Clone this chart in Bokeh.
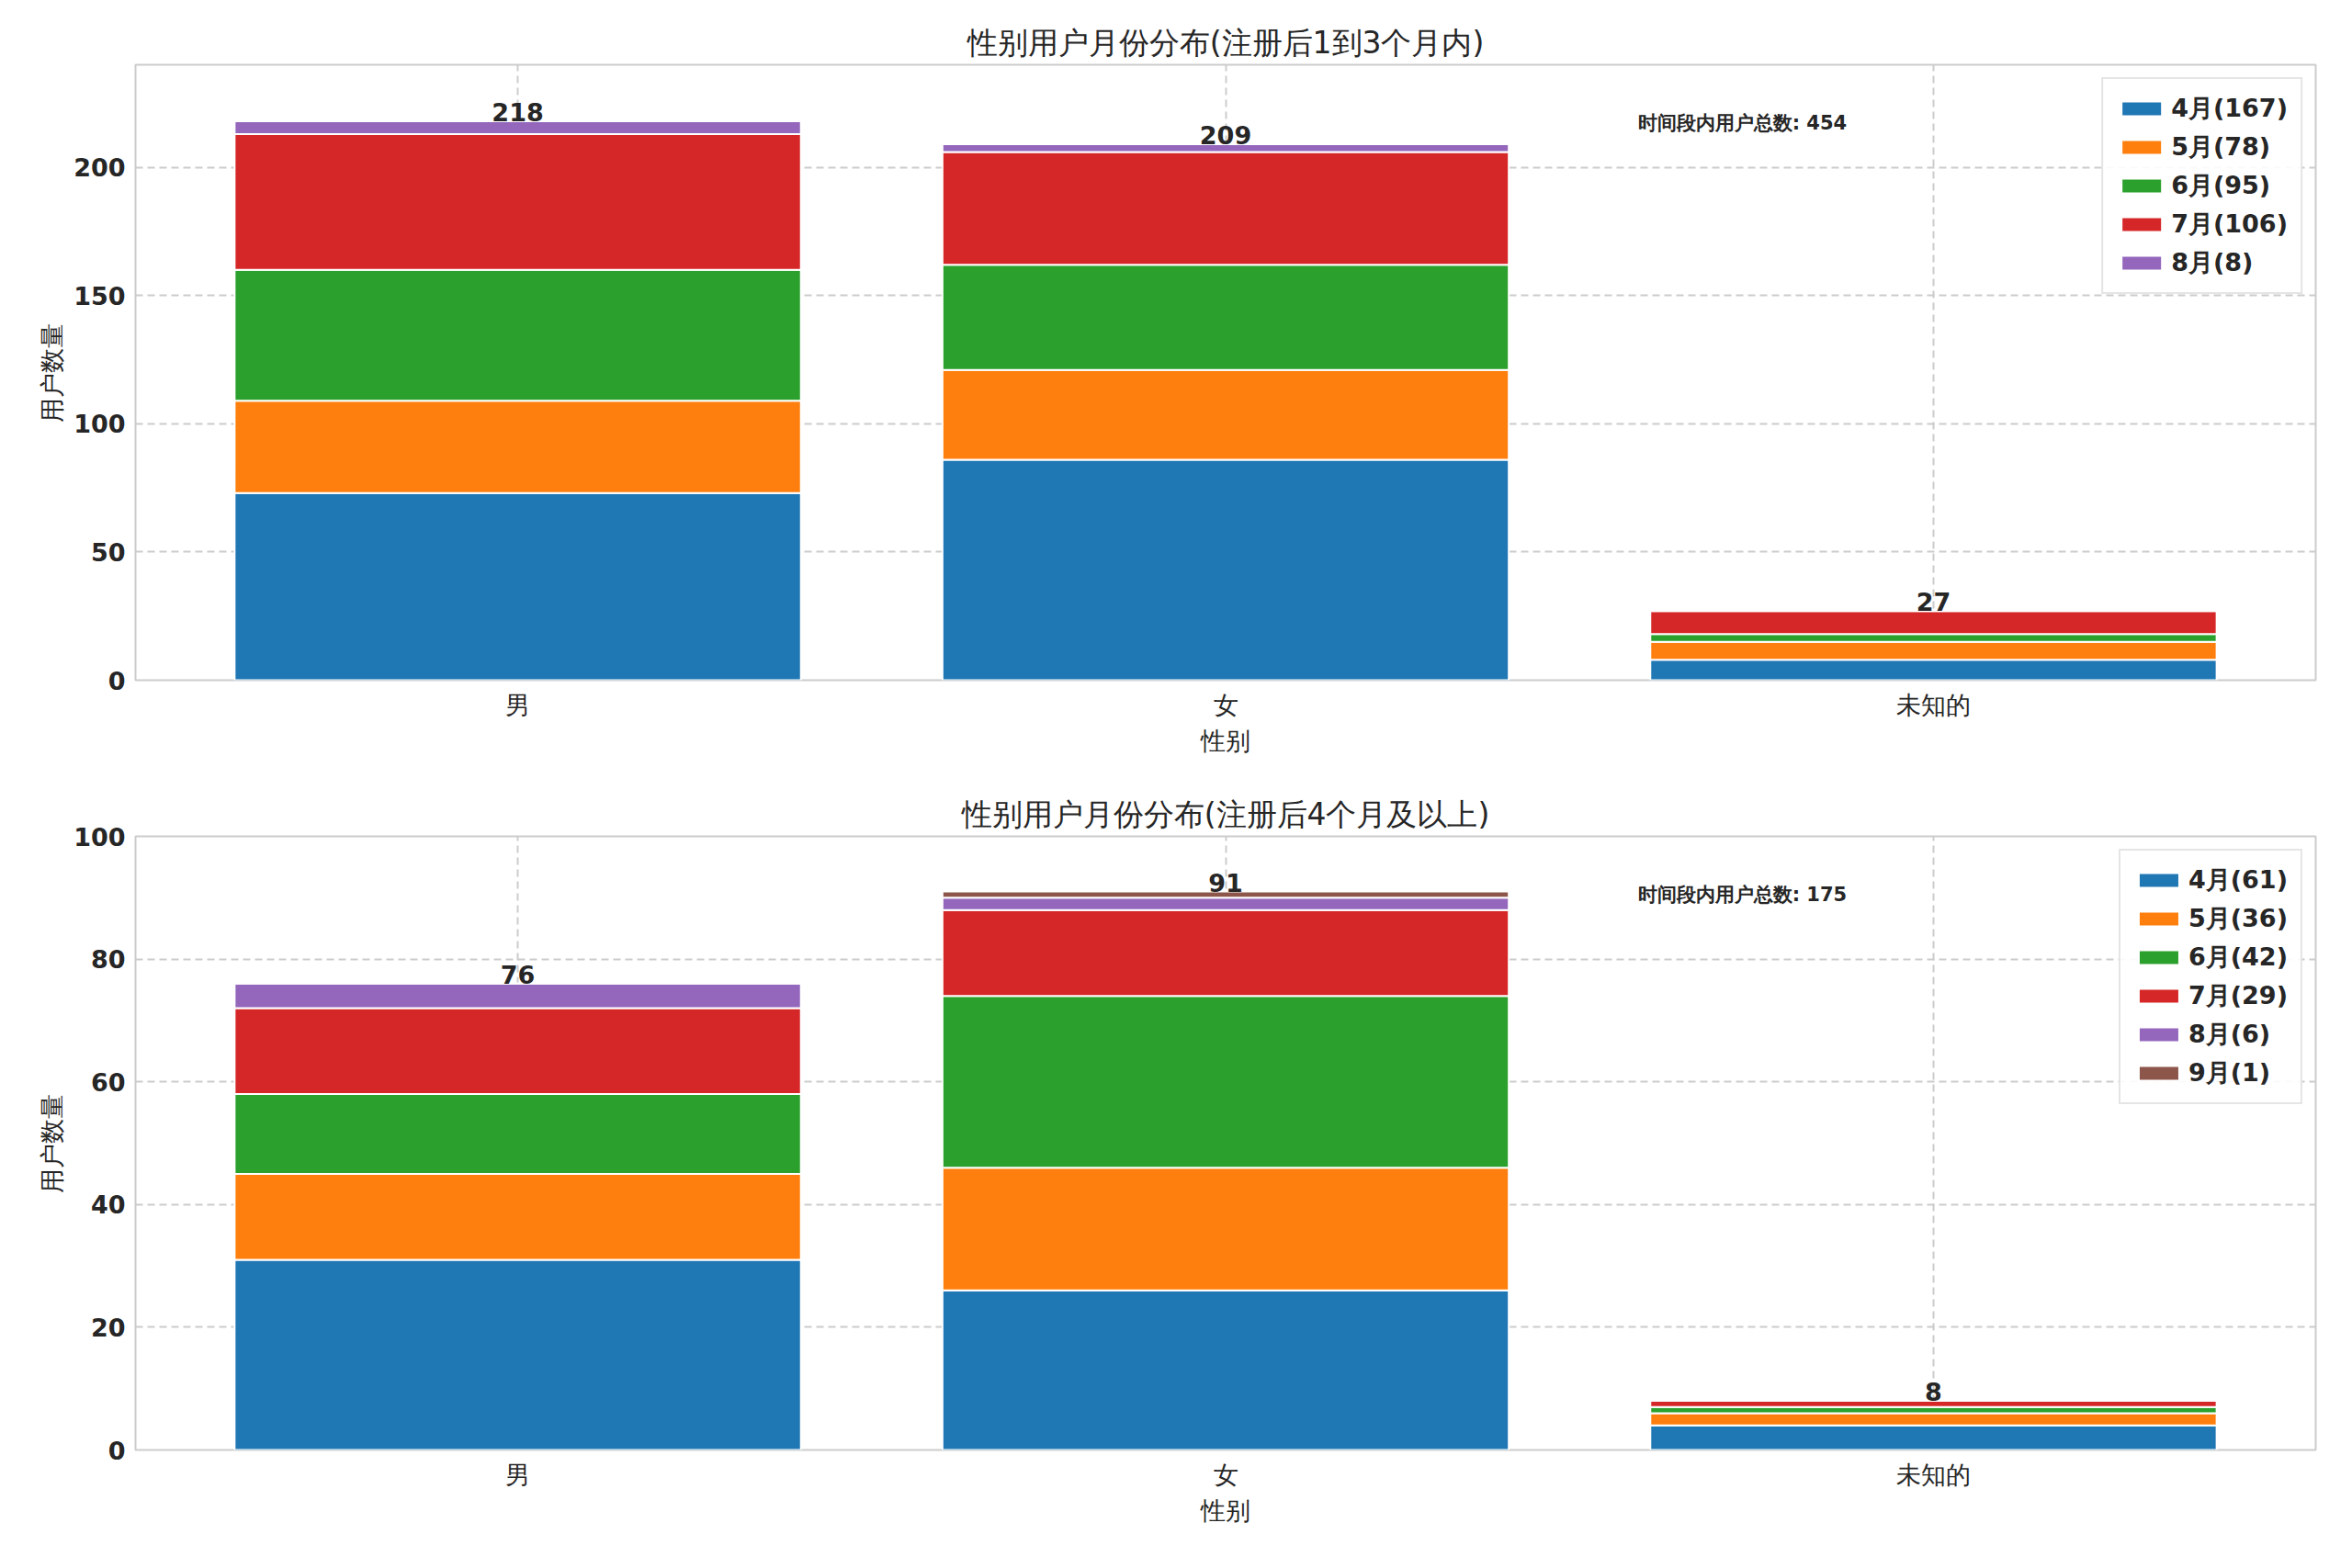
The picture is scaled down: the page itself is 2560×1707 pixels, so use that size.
from bokeh.plotting import figure
from bokeh.layouts import column
from bokeh.models import Legend, LegendItem, Range1d, FixedTicker
from bokeh.core.properties import value
from bokeh.embed import file_html
from bokeh.resources import INLINE

categories = ["男", "女", "未知的"]
months1 = ["4月", "5月", "6月", "7月", "8月"]
series1 = [[73, 86, 8], [36, 35, 7], [51, 41, 3], [53, 44, 9], [5, 3, 0]]
months2 = ["4月", "5月", "6月", "7月", "8月", "9月"]
series2 = [[31, 26, 4], [14, 20, 2], [13, 28, 1], [14, 14, 1], [4, 2, 0], [0, 1, 0]]
colors = ["#1f77b4", "#ff7f0e", "#2ca02c", "#d62728", "#9467bd", "#8c564b"]
titles = ["性别用户月份分布(注册后1到3个月内)", "性别用户月份分布(注册后4个月及以上)"]
ymax = [240, 100]
yticks = [[0, 50, 100, 150, 200], [0, 20, 40, 60, 80, 100]]
note_label = "时间段内用户总数"
FONT = "DejaVu Sans"

def make(idx, months, series, h, bt, bb):
    p = figure(width=2544, height=h, output_backend="svg", toolbar_location=None,
               x_range=Range1d(-0.54, 2.54), y_range=Range1d(0, ymax[idx]),
               min_border_left=147, min_border_right=24, min_border_top=bt, min_border_bottom=bb)
    p.title.text = titles[idx]
    p.title.align = "center"
    p.title.text_font = FONT
    p.title.text_font_size = "33px"
    p.title.text_font_style = "normal"
    p.title.text_color = "#262626"
    xs = list(range(len(categories)))
    bottoms = [0] * len(categories)
    items = []
    for k, m in enumerate(months):
        tops = [b + v for b, v in zip(bottoms, series[k])]
        r = p.vbar(x=xs, bottom=bottoms, top=tops, width=0.8, fill_color=colors[k],
                   line_color="white", line_width=2)
        items.append(LegendItem(label=f"{m}({sum(series[k])})", renderers=[r]))
        bottoms = tops
    p.text(x=xs, y=bottoms, text=[str(t) for t in bottoms], text_align="center",
           text_baseline="bottom", text_font=value(FONT), text_font_size="27px",
           text_font_style="bold", text_color="#262626")
    total = sum(bottoms)
    p.text(x=[1.73], y=[ymax[idx] * 0.905], text=[f"{note_label}: {total}"], text_align="center",
           text_baseline="middle", text_font=value(FONT), text_font_size="21px",
           text_font_style="bold", text_color="#262626")
    leg = Legend(items=items, location="top_right", label_text_font=FONT,
                 label_text_font_size="27px", label_text_font_style="bold",
                 label_text_color="#262626", glyph_width=55, glyph_height=20,
                 spacing=6, padding=14, border_line_color="#cccccc", border_line_width=2,
                 background_fill_alpha=0.9, margin=14)
    p.add_layout(leg)
    p.xaxis.ticker = FixedTicker(ticks=xs)
    p.xaxis.major_label_overrides = {i: c for i, c in enumerate(categories)}
    p.yaxis.ticker = FixedTicker(ticks=yticks[idx])
    p.xaxis.axis_label = "性别"
    p.yaxis.axis_label = "用户数量"
    for ax in [p.xaxis[0], p.yaxis[0]]:
        ax.axis_label_text_font = FONT
        ax.axis_label_text_font_size = "27px"
        ax.axis_label_text_font_style = "normal"
        ax.axis_label_text_color = "#262626"
        ax.major_label_text_font = FONT
        ax.major_label_text_font_size = "27px"
        ax.major_label_text_color = "#262626"
        ax.axis_line_color = None
        ax.major_tick_line_color = None
        ax.minor_tick_line_color = None
    p.yaxis.major_label_text_font_style = "bold"
    p.xgrid.grid_line_dash = "8 5"
    p.ygrid.grid_line_dash = "8 5"
    p.xgrid.grid_line_color = "#cccccc"
    p.ygrid.grid_line_color = "#cccccc"
    p.xgrid.grid_line_width = 2
    p.ygrid.grid_line_width = 2
    p.outline_line_color = "#cccccc"
    p.outline_line_width = 2
    return p

p1 = make(0, months1, series1, 832, 70, 92)
p2 = make(1, months2, series2, 858, 78, 112)
layout = column(p1, p2, spacing=0)
open("out.html", "w").write(file_html(layout, INLINE))
